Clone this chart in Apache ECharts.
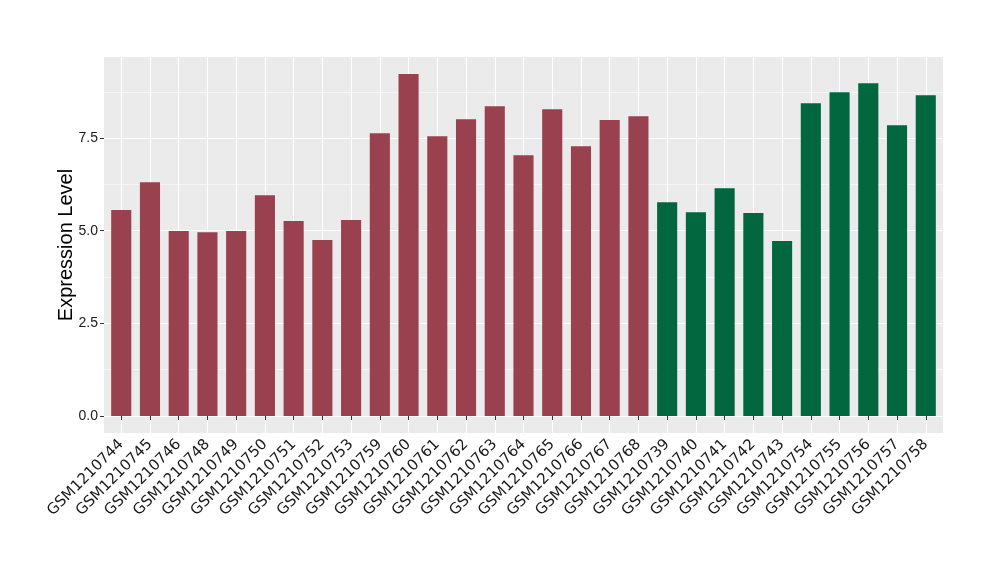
<!DOCTYPE html>
<html>
<head>
<meta charset="utf-8">
<script src="https://cdn.jsdelivr.net/npm/echarts@6/dist/echarts.min.js"></script>
<style>html,body{margin:0;padding:0;background:#fff}#c{width:1000px;height:580px}</style>
</head>
<body>
<div id="c"></div>
<script>
const categories = ["GSM1210744","GSM1210745","GSM1210746","GSM1210748","GSM1210749","GSM1210750","GSM1210751","GSM1210752","GSM1210753","GSM1210759","GSM1210760","GSM1210761","GSM1210762","GSM1210763","GSM1210764","GSM1210765","GSM1210766","GSM1210767","GSM1210768","GSM1210739","GSM1210740","GSM1210741","GSM1210742","GSM1210743","GSM1210754","GSM1210755","GSM1210756","GSM1210757","GSM1210758"];
const values = [5.56,6.31,4.99,4.96,4.99,5.96,5.26,4.75,5.29,7.63,9.23,7.55,8.01,8.36,7.04,8.28,7.28,7.99,8.09,5.77,5.50,6.15,5.48,4.72,8.44,8.74,8.98,7.85,8.66];
const groups = ["A","A","A","A","A","A","A","A","A","A","A","A","A","A","A","A","A","A","A","B","B","B","B","B","B","B","B","B","B"];
const yTicks = [0, 2.5, 5, 7.5];
const yMinorTicks = [1.25, 3.75, 6.25, 8.75];
const groupColors = {A: "#9A4150", B: "#02673F"};

const positions = categories.map((c, i) => i + 1);
const maxV = Math.max(...values);
const yMin = -0.05 * maxV, yMax = maxV * 1.05;

const chart = echarts.init(document.getElementById('c'), null, {renderer: 'canvas'});
chart.setOption({
  animation: false,
  backgroundColor: '#fff',
  grid: {left: 104, right: 57, top: 57, bottom: 147, show: true, backgroundColor: '#EBEBEB', borderWidth: 0},
  xAxis: {
    type: 'value', min: 0.4, max: 29.6,
    axisLine: {show: false},
    axisTick: {show: true, customValues: positions, length: 4, lineStyle: {color: '#333', width: 1}},
    axisLabel: {customValues: positions, formatter: v => categories[Math.round(v) - 1], rotate: 45, margin: 9,
      padding: [10, 0, 0, 0],
      fontFamily: 'DejaVu Sans', fontSize: 15, color: '#1A1A1A'},
    splitLine: {show: true, lineStyle: {color: '#fff', width: 1.1}}
  },
  yAxis: [{
    type: 'value', min: yMin, max: yMax,
    name: 'Expression Level', nameLocation: 'middle', nameGap: 28, nameMoveOverlap: false,
    nameTextStyle: {fontFamily: 'Liberation Sans', fontSize: 20, color: '#000'},
    axisLine: {show: false},
    axisTick: {show: true, customValues: yTicks, length: 4, lineStyle: {color: '#333', width: 1}},
    axisLabel: {customValues: yTicks, formatter: v => v.toFixed(1), margin: 6,
      fontFamily: 'Liberation Sans', fontSize: 14, color: '#1A1A1A'},
    splitLine: {show: true, lineStyle: {color: '#fff', width: 1.1}}
  }, {
    type: 'value', min: yMin, max: yMax, position: 'left',
    axisLine: {show: false},
    axisTick: {show: false, customValues: yMinorTicks},
    axisLabel: {show: false, customValues: yMinorTicks},
    splitLine: {show: true, lineStyle: {color: '#fff', width: 0.5}}
  }],
  series: [{
    type: 'bar',
    barWidth: '70%',
    data: values.map((v, i) => ({value: [positions[i], v], itemStyle: {color: groupColors[groups[i]]}}))
  }]
});
</script>
</body>
</html>
